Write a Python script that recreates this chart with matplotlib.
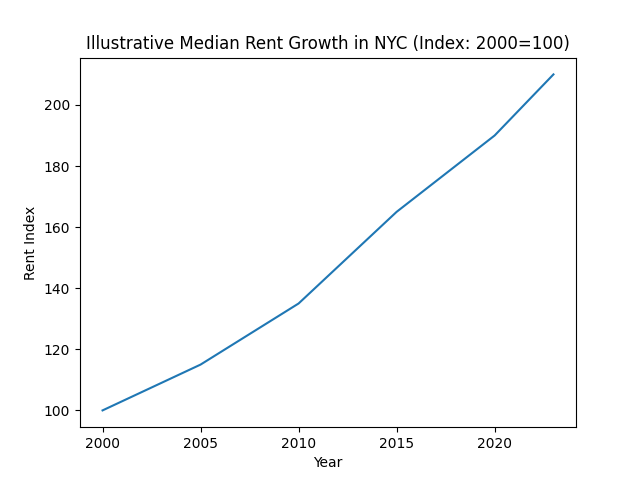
import matplotlib
matplotlib.use('Agg')
import matplotlib.pyplot as plt

# Rent index values
years = [2000, 2005, 2010, 2015, 2020, 2023]
rent_index = [100, 115, 135, 165, 190, 210]

fig, ax = plt.subplots(figsize=(6.4, 4.8), dpi=100)
ax.plot(years, rent_index)

ax.set_title('Illustrative Median Rent Growth in NYC (Index: 2000=100)')
ax.set_xlabel('Year')
ax.set_ylabel('Rent Index')

fig.savefig('out.png')
